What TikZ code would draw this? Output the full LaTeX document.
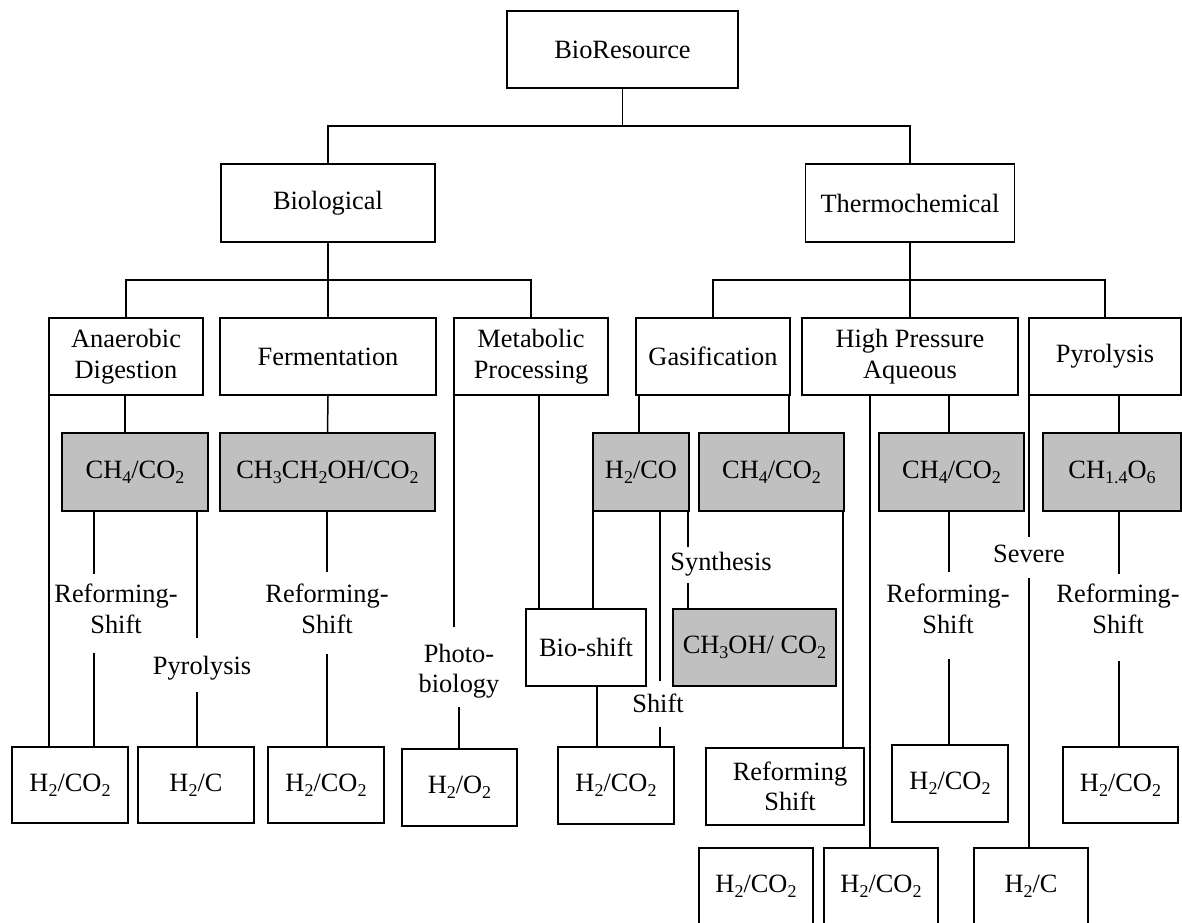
\documentclass[tikz,border=0pt]{standalone}
\usepackage{fontspec}
\setmainfont{Liberation Serif}
\definecolor{boxgrey}{HTML}{C0C0C0}
\newcommand\sbs[1]{\raisebox{-5pt}{\fontsize{18}{18}\selectfont #1}}
\tikzset{
  bx/.style={draw, line width=1.8pt, inner sep=0pt, align=center, font=\fontsize{26.4}{30.4}\selectfont},
  gbx/.style={bx, fill=boxgrey},
  lab/.style={inner sep=0pt, align=center, font=\fontsize{26.4}{30.4}\selectfont},
  ln/.style={line width=1.5pt},
}
\begin{document}
\begin{tikzpicture}[x=1pt,y=-1pt]
\useasboundingbox (0,0) rectangle (1182,922);
\clip (0,0) rectangle (1182,922);
% helper coordinates
\coordinate (t) at (0,126);
\coordinate (m) at (0,280);
\foreach \v in {49,94,125,197,327,454,459,539,593,597,639,660,688,789,843,870,949,1029,1119}{
  \coordinate (x\v) at (\v,0);
}
% level 0-1
\node[bx, minimum width=231, minimum height=77] (root) at (622.5,49.5) {BioResource};
\node[bx, minimum width=214, minimum height=78] (biol) at (328,203) {Biological};
\node[bx, minimum width=209, minimum height=78] (thermo) at (910,203) {Thermochemical};
% level 2
\node[bx, minimum width=154, minimum height=77] (ad) at (126,356.5) {Anaerobic\\Digestion};
\node[bx, minimum width=216, minimum height=77] (fe) at (328,356.5) {Fermentation};
\node[bx, minimum width=154, minimum height=77] (mp) at (531,356.5) {Metabolic\\Processing};
\node[bx, minimum width=154, minimum height=77] (ga) at (713,356.5) {Gasification};
\node[bx, minimum width=216, minimum height=77] (hp) at (910,356.5) {High Pressure\\Aqueous};
\node[bx, minimum width=152, minimum height=77] (py) at (1105,356.5) {Pyrolysis};
% level 3 (grey)
\node[gbx, minimum width=146, minimum height=78] (g1) at (135,472) {CH\sbs{4}/CO\sbs{2}};
\node[gbx, minimum width=215, minimum height=78] (g2) at (327.5,472) {CH\sbs{3}CH\sbs{2}OH/CO\sbs{2}};
\node[gbx, minimum width=96, minimum height=78] (g3) at (641,472) {H\sbs{2}/CO};
\node[gbx, minimum width=145, minimum height=78] (g4) at (771.5,472) {CH\sbs{4}/CO\sbs{2}};
\node[gbx, minimum width=145, minimum height=78] (g5) at (951.5,472) {CH\sbs{4}/CO\sbs{2}};
\node[gbx, minimum width=138, minimum height=78] (g6) at (1112,472) {CH\sbs{1.4}O\sbs{6}};
% middle boxes
\node[bx, minimum width=120, minimum height=77] (bs) at (586,647.5) {Bio-shift};
\node[gbx, minimum width=163, minimum height=77] (ch3oh) at (754.5,647.5) {CH\sbs{3}OH/ CO\sbs{2}};
% bottom row 1
\node[bx, minimum width=116, minimum height=76] (b1) at (70,785) {H\sbs{2}/CO\sbs{2}};
\node[bx, minimum width=116, minimum height=76] (b2) at (196,785) {H\sbs{2}/C};
\node[bx, minimum width=116, minimum height=76] (b3) at (326,785) {H\sbs{2}/CO\sbs{2}};
\node[bx, minimum width=115, minimum height=77] (b4) at (459.5,787.5) {H\sbs{2}/O\sbs{2}};
\node[bx, minimum width=116, minimum height=77] (b5) at (616,785.5) {H\sbs{2}/CO\sbs{2}};
\node[bx, minimum width=158, minimum height=77] (rs) at (785,786.5) {\hspace*{10pt}Reforming\\\hspace*{10pt}Shift};
\node[bx, minimum width=116, minimum height=77] (b6) at (950,783.5) {H\sbs{2}/CO\sbs{2}};
\node[bx, minimum width=115, minimum height=76] (b7) at (1120.5,785) {H\sbs{2}/CO\sbs{2}};
% bottom row 2
\node[bx, minimum width=114, minimum height=77] (c1) at (756,886.5) {H\sbs{2}/CO\sbs{2}};
\node[bx, minimum width=114, minimum height=77] (c2) at (881,886.5) {H\sbs{2}/CO\sbs{2}};
\node[bx, minimum width=114, minimum height=77] (c3) at (1031,886.5) {H\sbs{2}/C};
% labels
\node[lab] (rs1) at (116,609) {Reforming-\\Shift};
\node[lab] (pyl) at (202,668) {Pyrolysis};
\node[lab] (rs2) at (327,609) {Reforming-\\Shift};
\node[lab] (photo) at (459,671) {Photo-\\biology};
\node[lab] (shl) at (658,703) {Shift};
\node[lab] (syn) at (721,564) {Synthesis};
\node[lab] (sev) at (1029,554) {Severe};
\node[lab] (rs3) at (948,609) {Reforming-\\Shift};
\node[lab] (rs4) at (1118,609) {Reforming-\\Shift};
% connectors top
\draw[ln] (root.south) -- (root.south |- t);
\draw[ln] (biol.north) -- (biol.north |- t) -- (thermo.north |- t) -- (thermo.north);
\draw[ln] (biol.south) -- (biol.south |- m);
\draw[ln] (ad.north) -- (ad.north |- m) -- (mp.north |- m) -- (mp.north);
\draw[ln] (fe.north) -- (fe.north |- m);
\draw[ln] (thermo.south) -- (thermo.south |- m);
\draw[ln] (ga.north) -- (ga.north |- m) -- (py.north |- m) -- (py.north);
\draw[ln] (hp.north) -- (hp.north |- m);
% level 2 -> below
\draw[ln] (ad.south -| x125) -- (g1.north -| x125);
\draw[ln] (ad.south -| x49) -- (b1.north -| x49);
\draw[ln] (fe.south) -- (g2.north);
\draw[ln, shorten >=17pt] (mp.south -| x454) -- (photo.north -| x454);
\draw[ln, shorten <=9pt] (photo.south -| x459) -- (b4.north -| x459);
\draw[ln] (mp.south -| x539) -- (bs.north -| x539);
\draw[ln] (ga.south -| x639) -- (g3.north -| x639);
\draw[ln] (ga.south -| x789) -- (g4.north -| x789);
\draw[ln] (hp.south -| x870) -- (c2.north -| x870);
\draw[ln] (hp.south -| x949) -- (g5.north -| x949);
\draw[ln, shorten >=8pt] (py.south -| x1029) -- (sev.north -| x1029);
\draw[ln, shorten <=15pt] (sev.south -| x1029) -- (c3.north -| x1029);
\draw[ln] (py.south -| x1119) -- (g6.north -| x1119);
% level 3 -> below
\draw[ln, shorten >=10pt] (g1.south -| x94) -- (rs1.north -| x94);
\draw[ln, shorten <=19pt] (rs1.south -| x94) -- (b1.north -| x94);
\draw[ln, shorten >=18pt] (g1.south -| x197) -- (pyl.north -| x197);
\draw[ln, shorten <=12pt] (pyl.south -| x197) -- (b2.north -| x197);
\draw[ln, shorten >=12pt] (g2.south -| x327) -- (rs2.north -| x327);
\draw[ln, shorten <=20pt] (rs2.south -| x327) -- (b3.north -| x327);
\draw[ln] (g3.south -| x593) -- (bs.north -| x593);
\draw[ln, shorten >=12pt] (g3.south -| x660) -- (shl.north -| x660);
\draw[ln, shorten <=14pt] (shl.south -| x660) -- (b5.north -| x660);
\draw[ln, shorten >=5pt] (g3.south -| x688) -- (syn.north -| x688);
\draw[ln, shorten <=7pt] (syn.south -| x688) -- (ch3oh.north -| x688);
\draw[ln] (bs.south -| x597) -- (b5.north -| x597);
\draw[ln] (g4.south -| x843) -- (rs.north -| x843);
\draw[ln, shorten >=12pt] (g5.south -| x949) -- (rs3.north -| x949);
\draw[ln, shorten <=25pt] (rs3.south -| x949) -- (b6.north -| x949);
\draw[ln, shorten >=10pt] (g6.south -| x1119) -- (rs4.north -| x1119);
\draw[ln, shorten <=27pt] (rs4.south -| x1119) -- (b7.north -| x1119);
\end{tikzpicture}
\end{document}
